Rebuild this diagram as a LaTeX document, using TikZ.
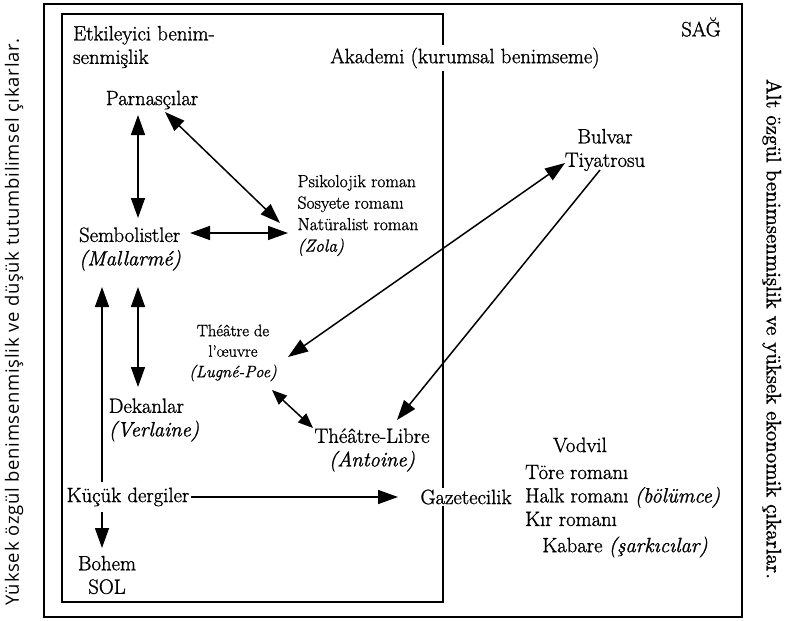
\documentclass[tikz,border=0pt]{standalone}
\usepackage{fontspec}
\usepackage{graphicx}
\setmainfont{Latin Modern Roman}[FakeBold=1.2]
\newfontfamily\sidesans{Open Sans}[LetterSpace=4]
\usetikzlibrary{arrows.meta}
\begin{document}
\begin{tikzpicture}[x=1pt,y=-1pt,
  big/.style={font=\fontsize{20.7}{23.5}\selectfont, inner sep=1pt, align=center},
  small/.style={font=\fontsize{17.5}{21.5}\selectfont, inner sep=1pt, align=center},
  smaller/.style={font=\fontsize{16.5}{20.5}\selectfont, inner sep=1pt, align=center},
  arr/.style={-{Triangle[length=20pt,width=14pt]}, line width=1.5pt},
  darr/.style={{Triangle[length=20pt,width=14pt]}-{Triangle[length=20pt,width=14pt]}, line width=1.5pt},
  sdarr/.style={{Triangle[length=15pt,width=12pt]}-{Triangle[length=15pt,width=12pt]}, line width=1.5pt},
  outerbox/.style={line width=2.4pt},
  innerbox/.style={line width=1.5pt}]
\useasboundingbox (0,0) rectangle (790,621);
\draw[outerbox] (44,4) rectangle (742,617);
\draw[innerbox] (62,14) rectangle (443,602);

\node[big, align=left] (etk) at (144,47) {Etkileyici benim-\\senmişlik};
\node[big, fill=white, inner sep=3pt] (akad) at (465,58) {Akademi (kurumsal benimseme)};
\node[big] (sag) at (701,27) {SAĞ};
\node[big] (parnas) at (152,100) {Parnasçılar};
\node[big, align=left] (sembol) at (130,249) {Sembolistler\\\textit{(Mallarmé)}};
\node[small, align=left] (psik) at (358,215.5) {Psikolojik roman\\Sosyete romanı\\Natüralist roman\\\textit{(Zola)}};
\node[big, align=left] (dekan) at (154,420) {Dekanlar\\\textit{(Verlaine)}};
\node[smaller] (oeuvre) at (233,353) {Théâtre de\\l’œuvre\\\textit{(Lugné-Poe)}};
\node[big] (libre) at (372,450) {Théâtre-Libre\\\textit{(Antoine)}};
\node[big] (bulvar) at (605,150) {Bulvar\\Tiyatrosu};
\node[big] (kucuk) at (128,497) {Küçük dergiler};
\node[big, fill=white, inner sep=2pt] (gazete) at (466,497) {Gazetecilik};
\node[big] (vodvil) at (580,445) {Vodvil};
\node[big, align=left, anchor=west] (rlist) at (524,495.5) {Töre romanı\\Halk romanı \textit{(bölümce)}\\Kır romanı};
\node[big] (kabare) at (625,547) {Kabare \textit{(şarkıcılar)}};
\node[big] (bohem) at (107,575) {Bohem\\SOL};
\node[rotate=90, inner sep=0pt] (lrot) at (14,322) {\resizebox{567pt}{!}{\sidesans Yüksek özgül benimsenmişlik ve düşük tutumbilimsel çıkarlar.}};
\node[rotate=-90, inner sep=0pt] (rrot) at (772,329) {\resizebox{500pt}{!}{Alt özgül benimsenmişlik ve yüksek ekonomik çıkarlar.}};

\draw[darr] ([shift={(-14,15)}]parnas.center) -- ([shift={(8,-31)}]sembol.center);
\draw[darr] ([shift={(13,12)}]parnas.center) -- ([shift={(-78,7.5)}]psik.center);
\draw[darr] ([shift={(60,-16)}]sembol.center) -- ([shift={(-70,17.5)}]psik.center);
\draw[arr] ([shift={(-26,-15)}]kucuk.center) -- ([shift={(-28,38)}]sembol.center);
\draw[darr] ([shift={(8,38)}]sembol.center) -- ([shift={(-16,-33)}]dekan.center);
\draw[arr] ([shift={(-26,15)}]kucuk.center) -- ([shift={(-5,-27)}]bohem.center);
\draw[arr] ([shift={(63,0)}]kucuk.center) -- ([shift={(-68,0)}]gazete.center);
\draw[darr] ([shift={(-40,13)}]bulvar.center) -- ([shift={(55,4)}]oeuvre.center);
\draw[sdarr] ([shift={(39,37)}]oeuvre.center) -- ([shift={(-59,-22)}]libre.center);
\draw[arr] ([shift={(-5,20)}]bulvar.center) -- ([shift={(25,-30)}]libre.center);
\end{tikzpicture}
\end{document}
